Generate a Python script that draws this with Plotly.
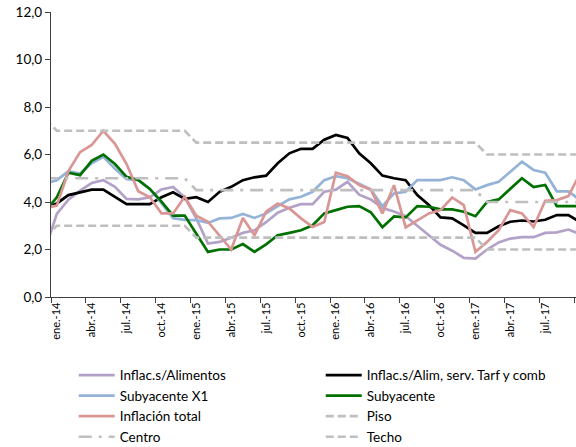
import plotly.graph_objects as go

# Month labels (dic.-13 .. oct.-17)
mes_abbr = ["ene.", "feb.", "mar.", "abr.", "may.", "jun.", "jul.", "ago.", "sep.", "oct.", "nov.", "dic."]
anios = ["14", "15", "16", "17"]
meses = ["dic.-13"] + [f"{m}-{a}" for a in anios for m in mes_abbr]
meses = meses[:47]  # through oct.-17

inflac_alimentos = [2.0, 3.5, 4.1, 4.48, 4.8, 4.92, 4.64, 4.13, 4.11, 4.2, 4.53, 4.63, 4.2,
                    3.3, 2.25, 2.32, 2.5, 2.7, 2.81, 3.15, 3.55, 3.76, 3.91, 3.91, 4.43,
                    4.52, 4.85, 4.31, 4.11, 3.75, 3.6, 3.4, 3.0, 2.6, 2.2, 1.95, 1.65,
                    1.62, 2.0, 2.3, 2.46, 2.52, 2.52, 2.7, 2.72, 2.84, 2.65]
inflac_alim_serv = [3.78, 3.94, 4.29, 4.41, 4.52, 4.52, 4.23, 3.91, 3.91, 3.91, 4.2, 4.41, 4.13,
                    4.2, 4.0, 4.43, 4.64, 4.92, 5.04, 5.11, 5.63, 6.05, 6.24, 6.24, 6.62,
                    6.82, 6.7, 6.05, 5.63, 5.11, 5.0, 4.92, 4.29, 3.87, 3.35, 3.31, 3.02,
                    2.7, 2.7, 2.98, 3.17, 3.22, 3.18, 3.25, 3.45, 3.45, 3.15]
subyacente_x1 = [4.78, 4.92, 5.3, 5.2, 5.63, 5.9, 5.4, 4.96, 4.92, 4.55, 3.95, 3.32, 3.25,
                 3.24, 3.12, 3.31, 3.33, 3.5, 3.33, 3.52, 3.83, 4.11, 4.22, 4.43, 4.92,
                 5.09, 5.0, 4.78, 4.53, 3.82, 4.36, 4.43, 4.92, 4.92, 4.92, 5.04, 4.92,
                 4.53, 4.71, 4.85, 5.27, 5.7, 5.35, 5.23, 4.45, 4.45, 4.08]
subyacente = [3.6, 4.2, 5.23, 5.13, 5.73, 6.0, 5.6, 5.06, 4.93, 4.55, 4.02, 3.43, 3.43,
              2.67, 1.9, 2.0, 2.0, 2.23, 1.9, 2.22, 2.6, 2.7, 2.81, 3.02, 3.52,
              3.66, 3.8, 3.83, 3.57, 2.94, 3.39, 3.35, 3.83, 3.8, 3.69, 3.69, 3.59,
              3.4, 4.0, 4.11, 4.57, 5.0, 4.63, 4.72, 3.83, 3.83, 3.83]
inflacion_total = [3.75, 3.85, 5.3, 6.1, 6.4, 7.0, 6.45, 5.6, 4.45, 4.2, 3.52, 3.52, 4.22,
                   3.42, 3.17, 2.57, 2.0, 3.33, 2.6, 3.59, 3.94, 3.73, 3.31, 2.95, 3.16,
                   5.23, 5.09, 4.71, 4.52, 3.52, 4.71, 2.93, 3.24, 3.52, 3.66, 4.19, 3.87,
                   1.9, 2.32, 2.81, 3.66, 3.52, 2.95, 4.05, 4.08, 4.25, 5.2]
piso = [2.5, 3.0, 3.0, 3.0, 3.0, 3.0, 3.0, 3.0, 3.0, 3.0, 3.0, 3.0, 3.0,
        2.5, 2.5, 2.5, 2.5, 2.5, 2.5, 2.5, 2.5, 2.5, 2.5, 2.5, 2.5,
        2.5, 2.5, 2.5, 2.5, 2.5, 2.5, 2.5, 2.5, 2.5, 2.5, 2.5, 2.5,
        2.5, 2.0, 2.0, 2.0, 2.0, 2.0, 2.0, 2.0, 2.0, 2.0]
centro = [5.0, 5.0, 5.0, 5.0, 5.0, 5.0, 5.0, 5.0, 5.0, 5.0, 5.0, 5.0, 5.0,
          4.5, 4.5, 4.5, 4.5, 4.5, 4.5, 4.5, 4.5, 4.5, 4.5, 4.5, 4.5,
          4.5, 4.5, 4.5, 4.5, 4.5, 4.5, 4.5, 4.5, 4.5, 4.5, 4.5, 4.5,
          4.5, 4.0, 4.0, 4.0, 4.0, 4.0, 4.0, 4.0, 4.0, 4.0]
techo = [7.5, 7.0, 7.0, 7.0, 7.0, 7.0, 7.0, 7.0, 7.0, 7.0, 7.0, 7.0, 7.0,
         6.5, 6.5, 6.5, 6.5, 6.5, 6.5, 6.5, 6.5, 6.5, 6.5, 6.5, 6.5,
         6.5, 6.5, 6.5, 6.5, 6.5, 6.5, 6.5, 6.5, 6.5, 6.5, 6.5, 6.5,
         6.5, 6.0, 6.0, 6.0, 6.0, 6.0, 6.0, 6.0, 6.0, 6.0]

y_ticks = [0, 2, 4, 6, 8, 10, 12]

# positions: ene.-14 -> 0
x = [i - 1 for i in range(len(meses))]
tick_pos = [x[i] for i, m in enumerate(meses) if m[:4] in ("ene.", "abr.", "jul.", "oct.")]
tick_txt = [m for m in meses if m[:4] in ("ene.", "abr.", "jul.", "oct.")]

FONT = "Lato"
fig = go.Figure()

series = [
    ("Inflac.s/Alimentos", inflac_alimentos, "#B3A2C7", "solid"),
    ("Inflac.s/Alim, serv. Tarf y comb", inflac_alim_serv, "#000000", "solid"),
    ("Subyacente X1", subyacente_x1, "#95B3D7", "solid"),
    ("Subyacente", subyacente, "#007000", "solid"),
    ("Inflación total", inflacion_total, "#D99694", "solid"),
    ("Piso", piso, "#BFBFBF", "8px,4px"),
    ("Centro", centro, "#BFBFBF", "13px,7px,3px,7px"),
    ("Techo", techo, "#BFBFBF", "8px,4px"),
]
for name, vals, color, dash in series:
    fig.add_trace(go.Scatter(x=x, y=vals, name=name, mode="lines",
                             line=dict(color=color, width=2.7, dash=dash)))

fig.update_layout(
    width=576, height=447,
    margin=dict(l=51, r=0, t=12, b=150, autoexpand=False),
    paper_bgcolor="white", plot_bgcolor="white",
    separators=",.",
    font=dict(family=FONT, color="#000000", size=13),
    showlegend=True,
    legend=dict(orientation="h", xref="container", yref="container",
                x=0.128, y=0.195, xanchor="left", yanchor="top",
                entrywidth=196, entrywidthmode="pixels", itemwidth=36,
                font=dict(size=13.5),
                bgcolor="rgba(0,0,0,0)", traceorder="normal", tracegroupgap=0),
)
fig.update_yaxes(range=[0, 12], tickvals=y_ticks, tickformat=".1f", ticks="outside",
                 ticklen=5, tickcolor="#404040", showline=True, linecolor="#404040",
                 linewidth=1.3, showgrid=False, zeroline=False, tickfont=dict(size=13.5))
fig.update_xaxes(range=[-0.5, 44.65], tickvals=tick_pos, ticktext=tick_txt, tickangle=-90,
                 ticks="", showline=True, linecolor="#404040", linewidth=1.3,
                 showgrid=False, zeroline=False, tickfont=dict(size=11),
                 minor=dict(tickmode="linear", tick0=-0.5, dtick=3, ticks="outside",
                            ticklen=5, tickcolor="#404040", tickwidth=1.3, showgrid=False))

fig.write_html("out.html", config={"displayModeBar": False},
               post_script="document.body.style.margin='0';document.body.style.overflow='hidden';")
